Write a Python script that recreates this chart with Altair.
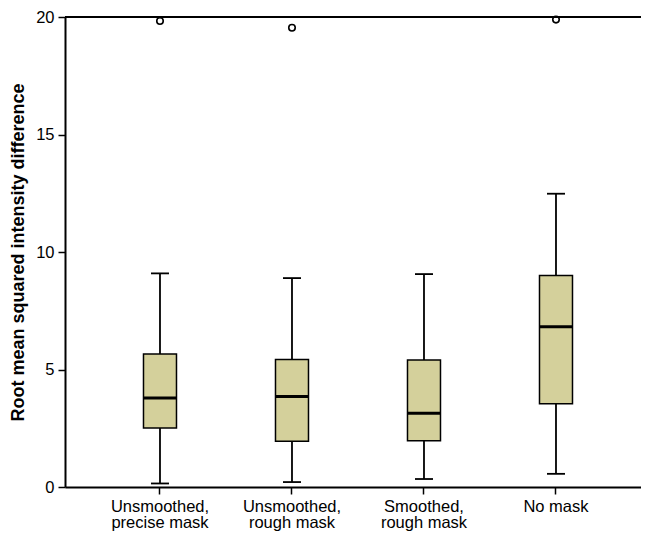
import altair as alt
import pandas as pd

categories = ["Unsmoothed, precise mask", "Unsmoothed, rough mask", "Smoothed, rough mask", "No mask"]
lower = [0.15, 0.21, 0.34, 0.56]
q1 = [2.51, 1.95, 1.97, 3.54]
median = [3.79, 3.85, 3.14, 6.82]
q3 = [5.66, 5.43, 5.40, 9.00]
upper = [9.09, 8.89, 9.06, 12.48]

outlier_cat = ["Unsmoothed, precise mask", "Unsmoothed, rough mask", "No mask"]
outlier_val = [19.83, 19.54, 19.89]

y_ticks = [0, 5, 10, 15, 20]

FONT = "Liberation Sans"
FILL = "#d4d09b"

df = pd.DataFrame({"cat": categories, "lower": lower, "q1": q1, "median": median, "q3": q3, "upper": upper})
dout = pd.DataFrame({"cat": outlier_cat, "val": outlier_val})

xscale = alt.Scale(domain=categories, paddingInner=0, paddingOuter=0.1818, align=0.604)
yscale = alt.Scale(domain=[0, 20], nice=False, zero=True)

xenc = alt.X("cat:N", scale=xscale, sort=categories, title=None,
             axis=alt.Axis(labelAngle=0, labelFont=FONT, labelFontSize=16.5, labelColor="black",
                           labelLineHeight=16.5, labelPadding=4,
                           labelExpr="split(replace(datum.label, ', ', ',|'), '|')",
                           domainColor="black", domainWidth=2, tickColor="black", tickWidth=1.5,
                           tickSize=7, grid=False))
yaxis = alt.Axis(values=y_ticks, labelFont=FONT, labelFontSize=16.5, labelColor="black", labelPadding=4,
                 domainColor="black", domainWidth=2, tickColor="black", tickWidth=1.5, tickSize=7,
                 grid=False, title="Root mean squared intensity difference", titleFont=FONT,
                 titleFontSize=18, titleFontWeight="bold", titleColor="black", titlePadding=8)

base = alt.Chart(df)

whisk_lo = base.mark_rule(color="black", strokeWidth=1.8).encode(
    x=xenc, y=alt.Y("lower:Q", scale=yscale, axis=yaxis), y2="q1:Q")
whisk_hi = base.mark_rule(color="black", strokeWidth=1.8).encode(
    x="cat:N", y="q3:Q", y2="upper:Q")
cap_lo = base.mark_tick(color="black", thickness=1.8, size=18, opacity=1).encode(x="cat:N", y="lower:Q")
cap_hi = base.mark_tick(color="black", thickness=1.8, size=18, opacity=1).encode(x="cat:N", y="upper:Q")
box = base.mark_bar(fill=FILL, stroke="black", strokeWidth=1.5, size=33, opacity=1).encode(
    x="cat:N", y="q1:Q", y2="q3:Q")
med = base.mark_tick(color="black", thickness=3, size=33, opacity=1).encode(x="cat:N", y="median:Q")
pts = alt.Chart(dout).mark_point(shape="circle", filled=False, color="black", strokeWidth=1.6,
                                 size=42, opacity=1).encode(x="cat:N", y="val:Q")
top = alt.Chart(df).mark_rule(color="black", strokeWidth=2).encode(y=alt.datum(20))

chart = alt.layer(whisk_lo, whisk_hi, cap_lo, cap_hi, box, med, pts, top).properties(
    width=576, height=470,
    autosize=alt.AutoSizeParams(type="none"),
    padding={"left": 57, "top": 9, "right": 0, "bottom": 45},
).configure_view(stroke=None)

chart.save("out.html", embed_options={"renderer": "svg", "actions": False})
